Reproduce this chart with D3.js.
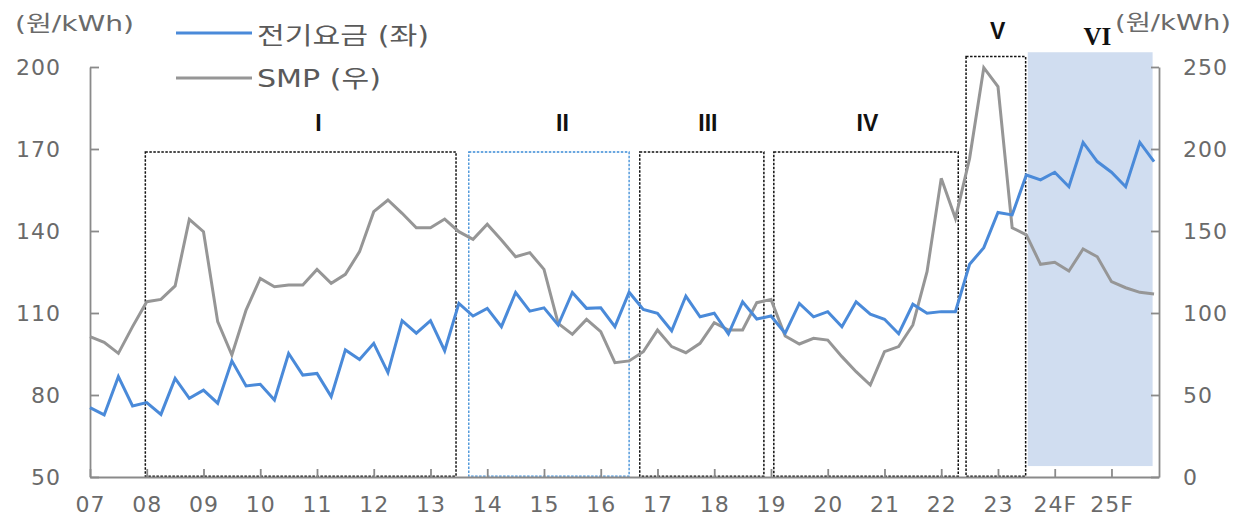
<!DOCTYPE html>
<html>
<head>
<meta charset="utf-8">
<script src="https://cdn.jsdelivr.net/npm/d3@7"></script>
<style>
  body { margin: 0; background: #fff; }
  svg text { font-family: "DejaVu Sans", "Noto Sans CJK KR", sans-serif; }
</style>
</head>
<body>
<svg id="chart" width="1237" height="522"></svg>
<script>
// quarterly series, 2007Q1 .. 2025Q4 (index 0..75)
const tariff = [
  75.4, 72.7, 86.7, 76.0, 77.2, 72.9, 86.1, 78.8, 81.8, 77.0,
  92.5, 83.3, 83.9, 78.2, 95.2, 87.3, 87.9, 79.4, 96.5, 93.0,
  98.9, 88.2, 107.2, 102.6, 107.2, 96.2, 113.5, 108.9, 111.7, 105.0,
  117.5, 110.7, 111.9, 105.6, 117.5, 111.7, 111.9, 105.0, 117.6, 111.3,
  109.9, 103.5, 116.2, 108.6, 109.9, 102.3, 114.1, 107.8, 108.9, 102.6,
  113.5, 108.6, 110.5, 105.0, 114.1, 109.6, 107.7, 102.4, 113.2, 109.9,
  110.5, 110.5, 127.8, 133.9, 146.8, 145.9, 160.5, 158.7, 161.5, 156.2,
  172.4, 165.4, 161.5, 156.2, 172.4, 165.4
];
const smp = [
  85.6, 82.1, 75.4, 91.7, 106.9, 108.3, 116.5, 157.1, 149.6, 94.7,
  74.4, 101.8, 121.1, 116.0, 117.1, 117.1, 126.6, 118.1, 123.6, 137.4,
  161.8, 168.9, 160.8, 152.0, 152.0, 157.3, 149.6, 144.9, 154.1, 144.5,
  134.3, 136.8, 126.6, 93.7, 87.0, 96.1, 88.6, 69.7, 70.8, 76.4,
  89.6, 79.5, 75.8, 81.5, 94.1, 89.6, 89.6, 106.3, 108.3, 86.0,
  81.1, 84.6, 83.5, 73.4, 64.2, 56.1, 76.4, 79.5, 92.7, 125.2,
  182.1, 157.7, 194.3, 249.6, 238.0, 152.0, 147.6, 129.7, 130.9, 125.6,
  139.0, 134.3, 119.1, 115.4, 112.6, 111.6
];
const yearLabels = ["07", "08", "09", "10", "11", "12", "13", "14", "15", "16",
                    "17", "18", "19", "20", "21", "22", "23", "24F", "25F"];
const leftTicks = [50, 80, 110, 140, 170, 200];
const rightTicks = [0, 50, 100, 150, 200, 250];

// periods: start/end in quarter index, top/bottom in left-axis units
const periodNames = ["I", "II", "III", "IV", "V", "VI"];
const periodStart = [3.9, 26.7, 38.75, 48.2, 61.75, 66.1];
const periodEnd   = [25.8, 38.0, 47.5, 61.2, 65.95, 74.9];
const periodTop   = [168.9, 168.9, 168.9, 168.9, 203.8, 205.4];
const periodBottom = [50.3, 50.3, 50.3, 50.3, 50.3, 54.0];
const periodLabelAt = [16.1, 33.3, 43.55, 54.8, 63.98, 71.0];
const periodLabelY = [179.5, 179.5, 179.5, 179.5, 213.2, 211.0];

const svg = d3.select("#chart");
const axisColor = "#8a8a8a";
const textColor = "#6a6a6a";

const x = d3.scaleLinear().domain([0, 75.35]).range([90, 1159]);
const yL = d3.scaleLinear().domain([50, 200]).range([477, 67]);
const yR = d3.scaleLinear().domain([0, 250]).range([477, 67]);

/* period boxes: VI is a filled band, the rest are dotted frames */
periodNames.forEach((name, i) => {
    const r = svg.append("rect")
        .attr("x", x(periodStart[i]))
        .attr("y", yL(periodTop[i]))
        .attr("width", x(periodEnd[i]) - x(periodStart[i]))
        .attr("height", yL(periodBottom[i]) - yL(periodTop[i]));
    if (name == "VI") {
        r.style("fill", "#d0ddf0");
    } else if (name == "II") {
        r.style("fill", "none").style("stroke", "#3a8bd6")
         .style("stroke-width", 1.3).style("stroke-dasharray", "2.5,1.5");
    } else {
        r.style("fill", "none").style("stroke", "#111")
         .style("stroke-width", 1.5).style("stroke-dasharray", "2.5,1.5");
    }
    svg.append("text")
        .attr("x", x(periodLabelAt[i]))
        .attr("y", yL(periodLabelY[i]) + 8)
        .attr("text-anchor", "middle")
        .style("font-family", name == "VI" ? "'Liberation Serif', serif" : "'Liberation Sans', sans-serif")
        .style("font-weight", "bold")
        .style("font-size", name == "VI" ? "25px" : "23px")
        .style("fill", "#111")
        .text(name);
});

/* axes */
function styleAxis(g) {
    g.selectAll("path, line").style("stroke", axisColor).style("stroke-width", 1.8);
    g.selectAll("text").style("fill", textColor).style("font-size", "22px")
        .style("font-family", "'DejaVu Sans', sans-serif").style("letter-spacing", "1px");
}

svg.append("g")
    .attr("transform", "translate(90,0)")
    .call(d3.axisLeft(yL).tickValues(leftTicks).tickSizeInner(-9).tickSizeOuter(0).tickPadding(29))
    .call(styleAxis);

svg.append("g")
    .attr("transform", "translate(1159,0)")
    .call(d3.axisRight(yR).tickValues(rightTicks).tickSizeInner(-8).tickSizeOuter(0).tickPadding(24))
    .call(styleAxis);

svg.append("g")
    .attr("transform", "translate(0,477)")
    .call(d3.axisBottom(x).tickValues(yearLabels.map((d, i) => i * 4))
        .tickFormat((d, i) => yearLabels[i]).tickSizeInner(-8).tickSizeOuter(0).tickPadding(19))
    .call(styleAxis);

/* series */
const lineL = d3.line().x((d, i) => x(i)).y(d => yL(d));
const lineR = d3.line().x((d, i) => x(i)).y(d => yR(d));

svg.append("path")
    .datum(smp)
    .attr("d", lineR)
    .style("fill", "none")
    .style("stroke", "#969696")
    .style("stroke-width", 3);

svg.append("path")
    .datum(tariff)
    .attr("d", lineL)
    .style("fill", "none")
    .style("stroke", "#4a8ad9")
    .style("stroke-width", 3);

/* legend: the original font is wide, so stretch glyphs to the measured width */
const legend = [
    { name: "전기요금 (좌)", color: "#4a8ad9", y: 33, base: 44, width: 172 },
    { name: "SMP (우)", color: "#969696", y: 78, base: 87, width: 124 }
];
legend.forEach(item => {
    svg.append("line")
        .attr("x1", 176).attr("x2", 252)
        .attr("y1", item.y).attr("y2", item.y)
        .style("stroke", item.color).style("stroke-width", 3);
    svg.append("text")
        .attr("x", 257).attr("y", item.base)
        .attr("textLength", item.width)
        .attr("lengthAdjust", "spacingAndGlyphs")
        .style("font-size", "24px").style("fill", "#5a5a5a")
        .text(item.name);
});

/* unit labels */
svg.append("text")
    .attr("x", 15).attr("y", 31)
    .attr("textLength", 119).attr("lengthAdjust", "spacingAndGlyphs")
    .style("font-size", "22px").style("fill", textColor)
    .text("(원/kWh)");
svg.append("text")
    .attr("x", 1115).attr("y", 30)
    .attr("textLength", 116).attr("lengthAdjust", "spacingAndGlyphs")
    .style("font-size", "22px").style("fill", textColor)
    .text("(원/kWh)");
</script>
</body>
</html>
